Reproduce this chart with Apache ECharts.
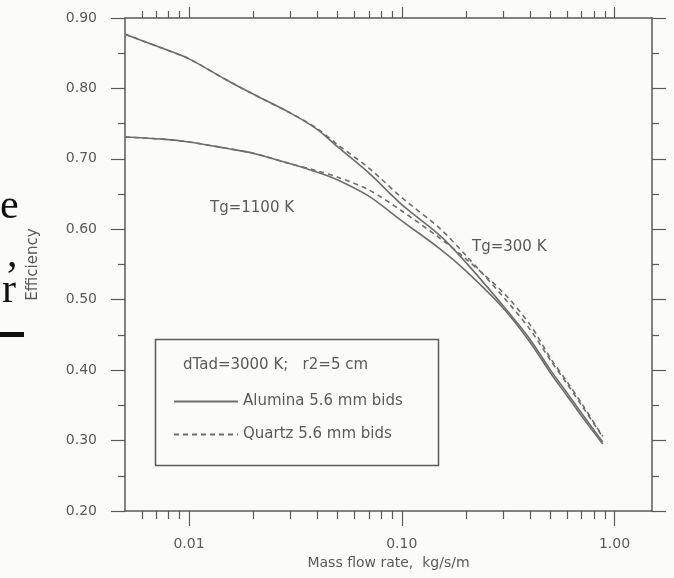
<!DOCTYPE html>
<html>
<head>
<meta charset="utf-8">
<script src="https://cdn.jsdelivr.net/npm/echarts@6/dist/echarts.min.js"></script>
<style>
html,body{margin:0;padding:0;background:#fbfbf7;}
#chart{width:674px;height:578px;}
</style>
</head>
<body>
<div id="chart"></div>
<script>
// Mass flow rate, kg/s/m
const massFlow = [0.005, 0.0075, 0.01, 0.015, 0.02, 0.03, 0.04, 0.05, 0.07, 0.1, 0.15, 0.2, 0.3, 0.4, 0.5, 0.6, 0.7, 0.85, 0.88];
// upper pair of curves
const aluminaUpper = [0.877, 0.857, 0.842, 0.812, 0.792, 0.765, 0.742, 0.717, 0.680, 0.635, 0.592, 0.553, 0.491, 0.444, 0.400, 0.367, 0.339, 0.304, 0.298];
const quartzUpper  = [0.877, 0.857, 0.842, 0.812, 0.792, 0.765, 0.743, 0.720, 0.687, 0.645, 0.602, 0.563, 0.504, 0.458, 0.414, 0.380, 0.350, 0.312, 0.305];
// lower pair of curves
const aluminaLower = [0.731, 0.728, 0.724, 0.715, 0.708, 0.693, 0.681, 0.670, 0.647, 0.612, 0.573, 0.541, 0.488, 0.440, 0.396, 0.363, 0.335, 0.301, 0.295];
const quartzLower  = [0.731, 0.728, 0.724, 0.715, 0.708, 0.693, 0.683, 0.674, 0.656, 0.626, 0.588, 0.558, 0.510, 0.465, 0.417, 0.383, 0.353, 0.313, 0.306];

const xMajorTicks = [0.01, 0.1, 1];
const xMinorTicks = [0.006, 0.007, 0.008, 0.009, 0.02, 0.03, 0.04, 0.05, 0.06, 0.07, 0.08, 0.09, 0.2, 0.3, 0.4, 0.5, 0.6, 0.7, 0.8, 0.9];
const seriesNames = ['Alumina 5.6 mm bids', 'Quartz 5.6 mm bids'];
const annotationTitle = 'dTad=3000 K;   r2=5 cm';
const curveLabels = ['Tg=1100 K', 'Tg=300 K'];
const pageFragments = ['e', ',', 'r'];

const pair = (ys) => massFlow.map((x, i) => [x, ys[i]]);

const ink = '#5a5a5a';
const lineInk = '#6e6e6e';
const font = 'DejaVu Sans';
const X_MIN = 0.005, X_MAX = 1.5;

function xAxisDef(pos, ticks, len, showLine, showLabel) {
  return {
    type: 'log', logBase: 10, min: X_MIN, max: X_MAX, position: pos, gridIndex: 0,
    axisLine: { show: showLine, lineStyle: { color: ink, width: 1.5 } },
    axisTick: { show: true, customValues: ticks, length: len, lineStyle: { color: ink, width: 1.2 } },
    axisLabel: showLabel ? {
      show: true, customValues: xMajorTicks, margin: 26, color: ink,
      fontFamily: font, fontSize: 14, formatter: v => Number(v).toFixed(2)
    } : { show: false },
    splitLine: { show: false },
    name: showLabel ? 'Mass flow rate,  kg/s/m' : '',
    nameLocation: 'middle', nameGap: 43,
    nameTextStyle: { color: ink, fontFamily: font, fontSize: 14 }
  };
}

function yAxisDef(pos, showLabel) {
  return {
    type: 'value', min: 0.2, max: 0.9, interval: 0.1, position: pos, gridIndex: 0,
    axisLine: { show: true, lineStyle: { color: ink, width: 1.5 } },
    axisTick: { show: true, length: 14, lineStyle: { color: ink, width: 1.2 } },
    minorTick: { show: true, splitNumber: 2, length: 7, lineStyle: { color: ink, width: 1.2 } },
    axisLabel: showLabel ? {
      show: true, margin: 28, color: ink, fontFamily: font, fontSize: 14,
      formatter: v => Number(v).toFixed(2)
    } : { show: false },
    splitLine: { show: false },
    name: showLabel ? 'Efficiency' : '',
    nameLocation: 'middle', nameRotate: 90, nameGap: 84,
    nameTextStyle: { color: ink, fontFamily: font, fontSize: 15 }
  };
}

function lineSeries(name, data, dashed) {
  return {
    type: 'line', name: name, data: pair(data), xAxisIndex: 0, yAxisIndex: 0,
    symbol: 'none', smooth: 0.3, silent: true,
    lineStyle: { color: lineInk, width: 1.6, type: dashed ? [5, 4] : 'solid' },
    itemStyle: { color: lineInk }
  };
}

const chart = echarts.init(document.getElementById('chart'), null, { renderer: 'canvas' });
chart.setOption({
  backgroundColor: '#fbfbf7',
  animation: false,
  grid: { left: 125, right: 22, top: 18, bottom: 67, containLabel: false },
  xAxis: [
    xAxisDef('bottom', xMajorTicks, 15, true, true),
    xAxisDef('bottom', xMinorTicks, 8, false, false),
    xAxisDef('top', xMajorTicks, 11, true, false),
    xAxisDef('top', xMinorTicks, 7, false, false)
  ],
  yAxis: [yAxisDef('left', true), yAxisDef('right', false)],
  legend: {
    data: seriesNames, orient: 'vertical', left: 173, top: 394, padding: 0,
    itemWidth: 64, itemHeight: 14, itemGap: 18, selectedMode: false,
    itemStyle: { color: 'rgba(0,0,0,0)', borderColor: 'rgba(0,0,0,0)', borderWidth: 0, opacity: 0 },
    textStyle: { color: ink, fontFamily: font, fontSize: 15 }
  },
  series: [
    lineSeries(seriesNames[0], aluminaUpper, false),
    lineSeries(seriesNames[1], quartzUpper, true),
    lineSeries(seriesNames[0], aluminaLower, false),
    lineSeries(seriesNames[1], quartzLower, true)
  ],
  graphic: [
    { type: 'rect', left: 153, top: 337, shape: { width: 283, height: 126 },
      style: { fill: 'none', stroke: ink, lineWidth: 1.5 }, z: 10 },
    { type: 'text', left: 183, top: 358, z: 10,
      style: { text: annotationTitle, fill: ink, font: '15px "DejaVu Sans"' } },
    { type: 'text', left: 210, top: 201, z: 10,
      style: { text: curveLabels[0], fill: ink, font: '15px "DejaVu Sans"' } },
    { type: 'text', left: 472, top: 240, z: 10,
      style: { text: curveLabels[1], fill: ink, font: '15px "DejaVu Sans"' } },
    { type: 'text', left: 0, top: 186, z: 10,
      style: { text: pageFragments[0], fill: '#111', font: '42px "Liberation Serif"' } },
    { type: 'text', left: 7, top: 234, z: 10,
      style: { text: pageFragments[1], fill: '#111', font: '42px "Liberation Serif"' } },
    { type: 'text', left: 2, top: 270, z: 10,
      style: { text: pageFragments[2], fill: '#111', font: '42px "Liberation Serif"' } },
    { type: 'rect', left: 0, top: 332, shape: { width: 24, height: 5 },
      style: { fill: '#111' }, z: 10 }
  ]
});
</script>
</body>
</html>
